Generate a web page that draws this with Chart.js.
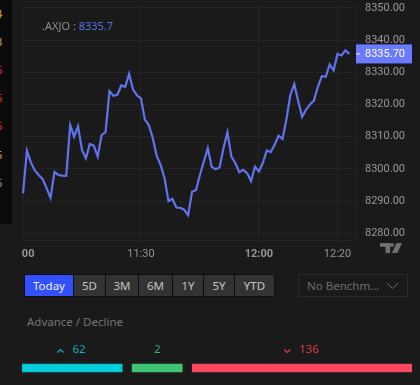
<!DOCTYPE html>
<html>
<head>
<meta charset="utf-8">
<title>.AXJO</title>
<script src="https://cdn.jsdelivr.net/npm/chart.js@4.4.1/dist/chart.umd.min.js"></script>
<style>
    html, body { margin: 0; padding: 0; background: #1a1a1a; overflow: hidden; }
    body { width: 420px; height: 385px; position: relative; font-family: "Noto Sans", sans-serif; }
    #price-chart { position: absolute; left: 22px; top: 0; }
    #breadth-chart { position: absolute; left: 22px; top: 340px; }
    #side-strip { position: absolute; left: 0; top: 0; width: 12px; height: 224px; background: #0b0b0b; overflow: hidden; }
    #side-strip span { position: absolute; left: -4px; font-size: 11px; line-height: 14px; }
    #ticker { position: absolute; left: 42px; top: 18px; font-size: 11px; line-height: 16px; color: #8f8f8f; }
    #ticker b { font-weight: normal; color: #5d72e8; }
    #tv-logo { position: absolute; left: 380px; top: 243px; }
    .range { position: absolute; top: 275px; height: 21px; line-height: 21px; background: #333; color: #c4c4c4; font-size: 11.5px; text-align: center; }
    .range.active { background: #3350ff; color: #e8ecff; }
    #range-back { position: absolute; left: 24px; top: 274px; width: 251px; height: 23px; background: #0e0e0e; }
    #benchmark { position: absolute; left: 298px; top: 274px; width: 110px; height: 23px; box-sizing: border-box; border: 1px solid #2b2b2b; color: #6e6e6e; font-size: 11.5px; line-height: 21px; padding-left: 8px; }
    #benchmark svg { position: absolute; left: 87px; top: 7px; }
    #breadth-title { position: absolute; left: 27px; top: 313px; font-size: 11.5px; line-height: 18px; color: #747474; }
</style>
</head>
<body>
<div id="side-strip">
    <span style="top:7px;color:#d9a520">4</span>
    <span style="top:35px;color:#c9a66b">3</span>
    <span style="top:63px;color:#e0353f">6</span>
    <span style="top:91px;color:#e0353f">6</span>
    <span style="top:119px;color:#e0353f">6</span>
    <span style="top:148px;color:#c9a66b">5</span>
    <span style="top:176px;color:#7f9fc9">6</span>
    <span style="top:200px;color:#c9a66b">-</span>
</div>
<canvas id="price-chart" width="398" height="262"></canvas>
<div id="ticker"></div>
<svg id="tv-logo" width="22" height="11" viewBox="0 0 24 12"><path fill="#707070" d="M0 0h11v11H6V4H0zM13 0a2.2 2.2 0 1 1 0 4.4A2.2 2.2 0 0 1 13 0zM18 0h6l-5 11h-6z"/></svg>
<div id="range-back"></div>
<div class="range active" style="left:25px;width:48px">Today</div>
<div class="range" style="left:74px;width:31px">5D</div>
<div class="range" style="left:106px;width:32px">3M</div>
<div class="range" style="left:139px;width:33px">6M</div>
<div class="range" style="left:173px;width:30px">1Y</div>
<div class="range" style="left:204px;width:30px">5Y</div>
<div class="range" style="left:235px;width:39px">YTD</div>
<div id="benchmark">No Benchm...<svg width="13" height="8" viewBox="0 0 13 8"><path d="M1 1l5.5 5.5L12 1" fill="none" stroke="#6e6e6e"/></svg></div>
<div id="breadth-title">Advance / Decline</div>
<canvas id="breadth-chart" width="390" height="56"></canvas>

<script>
    // Index level per minute (first point is 11:00)
    const startMinute = 660;
    const levels = [
        8292.4, 8305.6, 8302.0, 8299.5, 8298.1, 8296.8, 8294.0, 8291.0, 8299.0, 8298.1,
        8297.9, 8297.8, 8313.6, 8310.0, 8313.2, 8305.9, 8303.3, 8307.7, 8307.2, 8303.8,
        8310.5, 8311.4, 8324.1, 8322.7, 8323.0, 8325.9, 8325.5, 8329.5, 8324.6, 8322.8,
        8321.9, 8315.3, 8313.6, 8309.6, 8304.0, 8301.2, 8297.1, 8290.0, 8290.7, 8288.0,
        8287.9, 8287.3, 8285.6, 8292.9, 8293.4, 8298.1, 8302.3, 8306.4, 8300.6, 8299.9,
        8300.4, 8306.5, 8311.4, 8303.8, 8301.8, 8299.0, 8299.7, 8298.7, 8296.2, 8300.7,
        8299.2, 8301.8, 8305.7, 8305.2, 8307.5, 8310.3, 8309.3, 8315.3, 8323.0, 8326.3,
        8321.0, 8316.2, 8318.4, 8320.0, 8321.2, 8325.5, 8328.8, 8328.6, 8332.4, 8330.6,
        8335.7, 8335.2, 8336.8, 8335.7
    ];
    const priceTicks = [8280, 8290, 8300, 8310, 8320, 8330, 8340, 8350];
    const timeTicks = [660, 690, 720, 740];
    // trailing spaces nudge the first label left, the canvas edge then cuts it down to "00"
    const timeLabels = ["11:00  ", "11:30", "12:00", "12:20"];
    const boldTimes = ["11:00  ", "12:00"];

    const breadthCounts = [62, 2, 136];
    const breadthColors = ["#00ccd6", "#3cc476", "#f8475e"];
    const breadthText = ["#00b8c4", "#2fb56a", "#e63a4c"];
    const breadthCarets = ["up", "", "down"];

    const lineColor = "#5f73ee";
    const gridColor = "#242424";
    const lastLevel = levels[levels.length - 1];

    document.getElementById("ticker").innerHTML = ".AXJO : <b>" + lastLevel.toFixed(1) + "</b>";

    // Blue box on the price axis with the last value
    const lastValueBox = {
        id: "lastValueBox",
        afterDraw(chart) {
            const c = chart.ctx, y = chart.scales.y.getPixelForValue(lastLevel), x = chart.chartArea.right;
            c.save();
            c.fillStyle = "#6a7bff";
            c.fillRect(x, y - 9.5, 56, 19);
            c.fillStyle = "#fff";
            c.fillRect(x, y - 0.5, 4, 1);
            c.font = "11px Roboto";
            c.textBaseline = "middle";
            c.fillText(lastLevel.toFixed(2), x + 9, y + 0.5);
            c.restore();
        }
    };

    new Chart(document.getElementById("price-chart"), {
        type: "line",
        data: {
            datasets: [{
                data: levels.map(function (v, i) { return { x: startMinute + i, y: v }; }),
                borderColor: lineColor,
                borderWidth: 2.2,
                pointRadius: 0,
                tension: 0,
                clip: false
            }]
        },
        options: {
            responsive: false,
            animation: false,
            layout: { padding: { left: 1, top: 4, right: 0, bottom: 0 } },
            plugins: { legend: { display: false }, tooltip: { enabled: false } },
            scales: {
                x: {
                    type: "linear",
                    min: 660,
                    max: 744.7,
                    afterBuildTicks(s) { s.ticks = timeTicks.map(function (v) { return { value: v }; }); },
                    afterFit(s) { s.height = 22; s.paddingLeft = 0; s.paddingRight = 0; },
                    border: { color: gridColor },
                    grid: { color: gridColor, tickLength: 4 },
                    ticks: {
                        autoSkip: false,
                        maxRotation: 0,
                        padding: 4,
                        color: "#959595",
                        font(ctx) {
                            return { family: "Roboto", size: 11, weight: boldTimes.includes(ctx.tick && ctx.tick.label) ? "bold" : "normal" };
                        },
                        callback(v) { return timeLabels[timeTicks.indexOf(v)]; }
                    }
                },
                y: {
                    position: "right",
                    min: 8277.9,
                    max: 8351.2,
                    afterBuildTicks(s) { s.ticks = priceTicks.map(function (v) { return { value: v }; }); },
                    afterFit(s) { s.width = 64; s.paddingTop = 0; s.paddingBottom = 0; },
                    border: { color: gridColor },
                    grid: { color: gridColor, drawTicks: false },
                    ticks: {
                        padding: 9,
                        color: "#989898",
                        font: { family: "Roboto", size: 11 },
                        callback(v) { return v.toFixed(2); }
                    }
                }
            }
        },
        plugins: [lastValueBox]
    });

    // Counts sit above the bars, a small count still gets a readable bar
    const minBarSpan = 31, barGap = 6.2;
    const barSpans = breadthCounts.map(function (n) { return Math.max(n, minBarSpan); });
    let barEdge = 0;
    const barRanges = barSpans.map(function (w) {
        const r = [barEdge, barEdge + w];
        barEdge += w + barGap;
        return r;
    });

    const breadthLabels = {
        id: "breadthLabels",
        afterDatasetsDraw(chart) {
            const c = chart.ctx;
            c.save();
            c.font = "11.5px 'Noto Sans'";
            c.textBaseline = "middle";
            chart.getSortedVisibleDatasetMetas().forEach(function (meta, i) {
                const bar = meta.data[0], mid = (bar.x + bar.base) / 2 + (breadthCarets[i] ? 2 : 0);
                const text = String(breadthCounts[i]), y = bar.y - 18;
                const tw = c.measureText(text).width;
                c.fillStyle = breadthText[i];
                c.fillText(text, mid - tw / 2 + (breadthCarets[i] ? 5 : 0), y);
                if (breadthCarets[i]) {
                    const cx = mid - tw / 2 - 7, d = breadthCarets[i] === "up" ? -1 : 1;
                    c.strokeStyle = breadthText[i];
                    c.lineWidth = 1.2;
                    c.beginPath();
                    c.moveTo(cx - 3, y + 1 - 1.5 * d);
                    c.lineTo(cx, y + 1 + 1.5 * d);
                    c.lineTo(cx + 3, y + 1 - 1.5 * d);
                    c.stroke();
                }
            });
            c.restore();
        }
    };

    new Chart(document.getElementById("breadth-chart"), {
        type: "bar",
        data: {
            labels: ["Advance / Decline"],
            datasets: barRanges.map(function (r, i) {
                return { data: [r], backgroundColor: breadthColors[i], barThickness: 8, grouped: false };
            })
        },
        options: {
            indexAxis: "y",
            responsive: false,
            animation: false,
            layout: { padding: 0 },
            plugins: { legend: { display: false }, tooltip: { enabled: false } },
            scales: {
                x: { display: false, min: 0, max: barEdge - barGap },
                y: { display: false }
            }
        },
        plugins: [breadthLabels]
    });
</script>
</body>
</html>
